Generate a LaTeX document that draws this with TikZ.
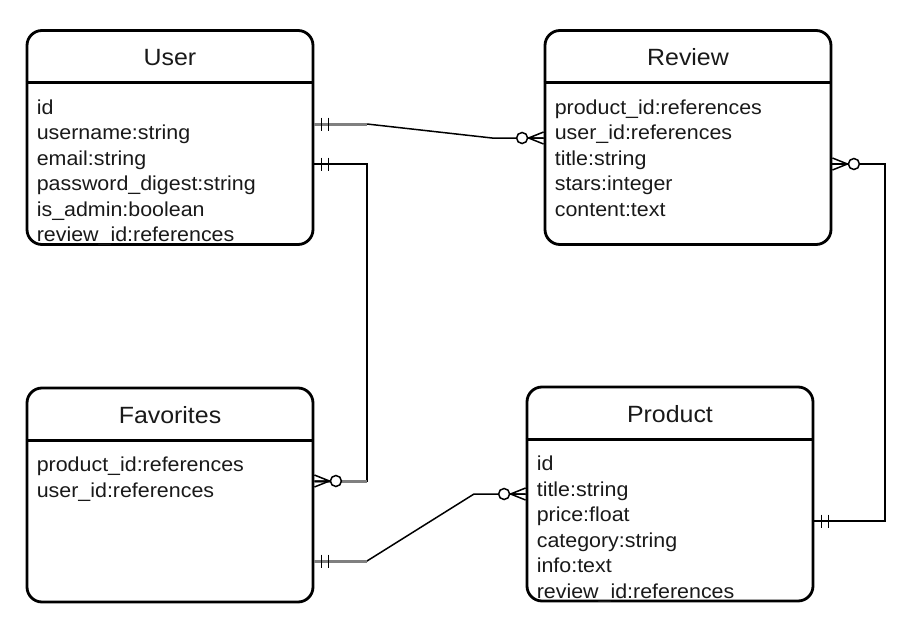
\documentclass[tikz,border=0pt]{standalone}
\usepackage{fontspec}
\setmainfont[FakeStretch=1.06]{Liberation Sans}
\begin{document}
\begin{tikzpicture}[x=1pt,y=-1pt,
  box/.style={draw, line width=2.8pt, rounded corners=15pt, minimum width=286pt, minimum height=214pt, inner sep=0pt},
  sep/.style={line width=2.8pt},
  ttl/.style={font=\fontsize{23.5}{28}\selectfont, anchor=base, text=black!90},
  body/.style={font=\fontsize{20.2}{25.5}\selectfont, align=left, anchor=north west, inner sep=0pt, text=black!90},
  conn/.style={line width=1.5pt},
  grayseg/.style={line width=3pt, draw=black!50},
  zeromany/.pic={\draw[conn] (0,-6)--(15,0)--(0,6) (0,0)--(15,0); \draw[conn,fill=white] (21.5,0) circle (5.5);},
  onlyone/.pic={\draw[line width=1.7pt] (7,-6.5)--(7,6.5) (14,-6.5)--(14,6.5);}
]
\useasboundingbox (0,0) rectangle (911,632);

% boxes
\node[box] (user) at (170,137.5) {};
\node[box] (review) at (688,137.5) {};
\node[box] (fav) at (170,495) {};
\node[box] (product) at (670,494) {};

\foreach \b in {user,review,fav,product}{
  \draw[sep] ([yshift=-53.5pt]\b.north west) -- ([yshift=-53.5pt]\b.north east);
}

% titles
\node[ttl] (usert) at ([yshift=-36.5pt]user.north) {User};
\node[ttl] (reviewt) at ([yshift=-36.5pt]review.north) {Review};
\node[ttl] (favt) at ([yshift=-36.5pt]fav.north) {Favorites};
\node[ttl] (productt) at ([yshift=-36.5pt]product.north) {Product};

% bodies
\node[body] (userb) at ([xshift=11pt,yshift=-69pt]user.north west)
  {\rule{0pt}{16pt}id\\username:string\\email:string\\password\_digest:string\\is\_admin:boolean\\review\_id:references};
\node[body] (reviewb) at ([xshift=11pt,yshift=-69pt]review.north west)
  {\rule{0pt}{16pt}product\_id:references\\user\_id:references\\title:string\\stars:integer\\content:text};
\node[body] (favb) at ([xshift=11pt,yshift=-69pt]fav.north west)
  {\rule{0pt}{16pt}product\_id:references\\user\_id:references};
\node[body] (productb) at ([xshift=11pt,yshift=-69pt]product.north west)
  {\rule{0pt}{16pt}id\\title:string\\price:float\\category:string\\info:text\\review\_id:references};

% connector User - Review
\draw[conn] ([yshift=13.5pt]user.east) -- (367,124) -- (492,138) -- ([yshift=-0.5pt]review.west);
\draw[grayseg] ([yshift=13.5pt]user.east) -- (367,124);
\pic at ([yshift=13.5pt]user.east) {onlyone};
\pic[rotate=180] at ([yshift=-0.5pt]review.west) {zeromany};

% connector User - Favorites
\draw[conn] ([yshift=-26.5pt]user.east) -- (367,164) -- (367,481) -- ([yshift=14pt]fav.east);
\draw[grayseg] (367,481) -- ([yshift=14pt]fav.east);
\pic at ([yshift=-26.5pt]user.east) {onlyone};
\pic at ([yshift=14pt]fav.east) {zeromany};

% connector Favorites - Product
\draw[conn] ([yshift=-66pt]fav.east) -- (367,561) -- (474,494) -- (product.west);
\draw[grayseg] ([yshift=-66pt]fav.east) -- (367,561);
\pic at ([yshift=-66pt]fav.east) {onlyone};
\pic[rotate=180] at (product.west) {zeromany};

% connector Review - Product
\draw[conn] ([yshift=-26.5pt]review.east) -- (885,164) -- (885,521) -- ([yshift=-27pt]product.east);
\pic at ([yshift=-26.5pt]review.east) {zeromany};
\pic at ([yshift=-27pt]product.east) {onlyone};
\end{tikzpicture}
\end{document}
